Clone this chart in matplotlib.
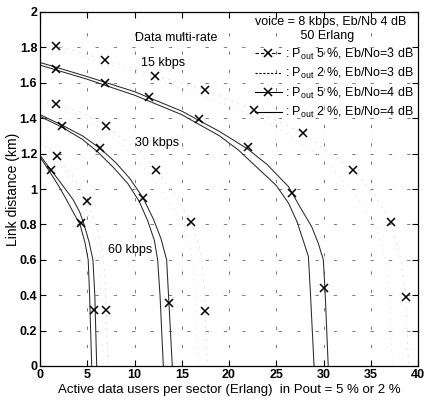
import matplotlib
matplotlib.use('Agg')
import matplotlib.pyplot as plt
from matplotlib.lines import Line2D

plt.rcParams['font.family'] = ['Liberation Sans', 'DejaVu Sans']
plt.rcParams['mathtext.fontset'] = 'custom'
plt.rcParams['mathtext.rm'] = 'Liberation Sans'
plt.rcParams['mathtext.it'] = 'Liberation Sans:italic'

# ---------------- data ----------------
# Eb/No = 4 dB, Pout = 5 % (solid, X markers)
r60_4_5_x = [0, 1.13, 2.4, 3.5, 4.2, 4.66, 5.2, 5.6, 5.8, 6.0]
r60_4_5_y = [1.19, 1.11, 1.02, 0.94, 0.87, 0.80, 0.70, 0.60, 0.40, 0.0]
r60_4_5_mx = [1.13, 4.34, 5.7]
r60_4_5_my = [1.107, 0.81, 0.316]
# Eb/No = 4 dB, Pout = 2 % (solid)
r60_4_2_x = [0, 1.0, 2.0, 2.8, 3.6, 4.23, 4.75, 5.1, 5.25, 5.47]
r60_4_2_y = [1.18, 1.10, 1.015, 0.94, 0.86, 0.80, 0.70, 0.60, 0.40, 0.0]

r30_4_5_x = [0, 2.36, 4.5, 6.35, 8.0, 9.5, 10.9, 12.0, 12.8, 13.4, 13.6, 14.0]
r30_4_5_y = [1.42, 1.36, 1.30, 1.23, 1.15, 1.06, 0.95, 0.83, 0.72, 0.60, 0.40, 0.0]
r30_4_5_mx = [2.36, 6.35, 10.87, 13.6]
r30_4_5_my = [1.356, 1.23, 0.95, 0.354]
r30_4_2_x = [0, 2.3, 4.5, 6.1, 7.8, 9.3, 10.5, 11.4, 12.1, 12.45, 12.7, 13.05]
r30_4_2_y = [1.41, 1.35, 1.28, 1.21, 1.12, 1.03, 0.93, 0.82, 0.71, 0.60, 0.40, 0.0]

r15_4_5_x = [0, 5, 10, 15, 19, 22, 24, 26.3, 27.5, 28.75, 29.45, 29.98, 30.16, 30.5]
r15_4_5_y = [1.715, 1.635, 1.55, 1.44, 1.325, 1.225, 1.14, 1.013, 0.90, 0.787, 0.693, 0.60, 0.43, 0.0]
r15_4_5_mx = [1.66, 6.9, 11.5, 16.8, 22.0, 26.7, 30.0]
r15_4_5_my = [1.68, 1.60, 1.52, 1.395, 1.24, 0.98, 0.44]
r15_4_2_x = [0, 5, 10, 15, 19, 21, 23, 25.0, 26.3, 27.2, 28.4, 28.6, 29.0]
r15_4_2_y = [1.70, 1.62, 1.53, 1.42, 1.30, 1.22, 1.12, 1.02, 0.92, 0.815, 0.62, 0.43, 0.0]

# Eb/No = 3 dB, Pout = 5 % (dashed, X markers) -- faint in the scan
r60_3_5_x = [0, 1.76, 3.5, 5.0, 6.0, 6.6, 6.9, 7.0, 7.2]
r60_3_5_y = [1.27, 1.19, 1.07, 0.93, 0.78, 0.65, 0.50, 0.30, 0.0]
r60_3_5_mx = [1.76, 5.0, 6.98]
r60_3_5_my = [1.188, 0.93, 0.316]
r60_3_2_x = [0, 1.7, 3.4, 4.7, 5.6, 6.2, 6.4, 6.5, 6.7]
r60_3_2_y = [1.26, 1.17, 1.05, 0.92, 0.78, 0.65, 0.50, 0.30, 0.0]

r30_3_5_x = [0, 1.69, 4.5, 6.98, 9.8, 12.3, 14.3, 16.0, 17.0, 17.4, 17.5, 17.7]
r30_3_5_y = [1.50, 1.478, 1.43, 1.356, 1.24, 1.107, 0.96, 0.815, 0.65, 0.45, 0.31, 0.0]
r30_3_5_mx = [1.69, 6.98, 12.3, 16.0, 17.5]
r30_3_5_my = [1.478, 1.356, 1.107, 0.815, 0.31]
r30_3_2_x = [0, 1.6, 4.3, 6.6, 9.2, 11.5, 13.4, 15.0, 16.0, 16.4, 16.5, 16.7]
r30_3_2_y = [1.49, 1.465, 1.41, 1.34, 1.22, 1.09, 0.95, 0.81, 0.65, 0.45, 0.31, 0.0]

r15_3_5_x = [0, 1.66, 6.9, 12.2, 17.5, 22.6, 27.8, 33.1, 35.5, 37.1, 38.2, 38.7, 39.0]
r15_3_5_y = [1.83, 1.81, 1.73, 1.64, 1.56, 1.446, 1.316, 1.107, 0.96, 0.815, 0.60, 0.39, 0.0]
r15_3_5_mx = [1.66, 6.9, 12.2, 17.5, 22.6, 27.8, 33.1, 37.1, 38.7]
r15_3_5_my = [1.81, 1.73, 1.64, 1.56, 1.446, 1.316, 1.107, 0.815, 0.39]
r15_3_2_x = [0, 5, 10, 15, 20, 25, 30, 33.5, 35.6, 36.6, 37.0, 37.3]
r15_3_2_y = [1.82, 1.74, 1.66, 1.57, 1.47, 1.35, 1.17, 0.96, 0.78, 0.60, 0.39, 0.0]

xticks = [0, 5, 10, 15, 20, 25, 30, 35, 40]
yticks = [0, 0.2, 0.4, 0.6, 0.8, 1, 1.2, 1.4, 1.6, 1.8, 2]
xticklabels = ['0', '5', '10', '15', '20', '25', '30', '35', '40']
yticklabels = ['0', '0.2', '0.4', '0.6', '0.8', '1', '1.2', '1.4', '1.6', '1.8', '2']

rate_labels = ['Data multi-rate', '15 kbps', '30 kbps', '60 kbps']
rate_label_x = [14.4, 13.0, 12.4, 9.5]
rate_label_y = [1.853, 1.71, 1.26, 0.655]

legend_title = 'voice = 8 kbps, Eb/No 4 dB\n             50 Erlang'
legend_labels = [r': $\mathrm{P_{out}}$ 5 %, Eb/No=3 dB',
                 r': $\mathrm{P_{out}}$ 2 %, Eb/No=3 dB',
                 r': $\mathrm{P_{out}}$ 5 %, Eb/No=4 dB',
                 r': $\mathrm{P_{out}}$ 2 %, Eb/No=4 dB']

# ---------------- figure ----------------
fig = plt.figure(figsize=(4.25, 4.05), dpi=100)
ax = fig.add_axes([40/425, 39/405, 378/425, 354/405])

faint = '#e0e0e0'
solid_col = '#2a2a2a'

# Eb/No = 3 dB curves (faint in the scan)
for cx, cy in [(r60_3_5_x, r60_3_5_y), (r30_3_5_x, r30_3_5_y), (r15_3_5_x, r15_3_5_y)]:
    ax.plot(cx, cy, color=faint, lw=0.6, linestyle=(0, (3, 5)))
for cx, cy in [(r60_3_2_x, r60_3_2_y), (r30_3_2_x, r30_3_2_y), (r15_3_2_x, r15_3_2_y)]:
    ax.plot(cx, cy, color=faint, lw=0.6, linestyle=(0, (1.5, 6)))
for mx, my in [(r60_3_5_mx, r60_3_5_my), (r30_3_5_mx, r30_3_5_my), (r15_3_5_mx, r15_3_5_my)]:
    ax.plot(mx, my, linestyle='none', marker='x', ms=6, mew=1.1, color='black')

# Eb/No = 4 dB curves
for cx, cy in [(r60_4_5_x, r60_4_5_y), (r30_4_5_x, r30_4_5_y), (r15_4_5_x, r15_4_5_y),
               (r60_4_2_x, r60_4_2_y), (r30_4_2_x, r30_4_2_y), (r15_4_2_x, r15_4_2_y)]:
    ax.plot(cx, cy, color=solid_col, lw=0.75)
for mx, my in [(r60_4_5_mx, r60_4_5_my), (r30_4_5_mx, r30_4_5_my), (r15_4_5_mx, r15_4_5_my)]:
    ax.plot(mx, my, linestyle='none', marker='x', ms=6, mew=1.1, color='black')

for t, tx, ty in zip(rate_labels, rate_label_x, rate_label_y):
    ax.text(tx, ty, t, ha='center', va='center', fontsize=9)

ax.set_xlim(0, 40)
ax.set_ylim(0, 2)
ax.set_xticks(xticks)
ax.set_xticklabels(xticklabels, fontweight='bold', fontsize=9)
ax.set_yticks(yticks)
ax.set_yticklabels(yticklabels, fontweight='bold', fontsize=9)
ax.tick_params(direction='in', length=4, width=0.8, top=True, right=True, pad=2)
ax.grid(True, color='#666666', lw=0.6, linestyle=(0, (4, 18)))
for s in ax.spines.values():
    s.set_linewidth(0.9)

ax.set_xlabel('Active data users per sector (Erlang)  in Pout = 5 % or 2 %', fontsize=9.5, labelpad=2)
ax.set_ylabel('Link distance (km)', fontsize=10, labelpad=0)

handles = [
    Line2D([], [], color='black', lw=0.8, linestyle=(0, (3, 2)), marker='x', ms=6, mew=1.1),
    Line2D([], [], color='black', lw=0.8, linestyle=(0, (2, 1.5))),
    Line2D([], [], color='black', lw=0.8, linestyle='-', marker='x', ms=6, mew=1.1),
    Line2D([], [], color='black', lw=0.8, linestyle='-'),
]
leg = ax.legend(handles, legend_labels, title=legend_title, loc='upper right',
                frameon=False, fontsize=9, title_fontsize=9, handlelength=2.2,
                handletextpad=0.2, labelspacing=0.35, borderaxespad=0.1,
                borderpad=0.25, alignment='left')

fig.savefig('out.png', dpi=100)
